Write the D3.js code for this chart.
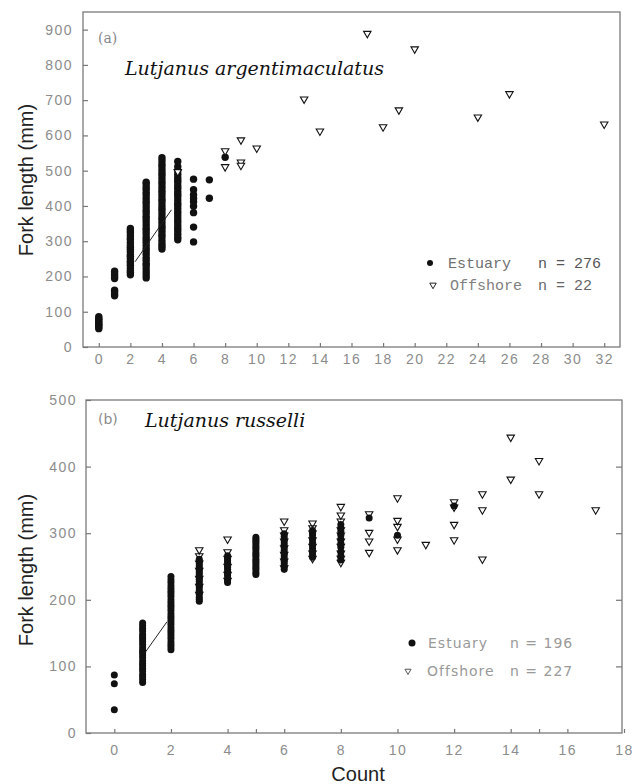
<!DOCTYPE html>
<html lang="en">
<head>
<meta charset="utf-8">
<title>Fork length vs count</title>
<script src="https://cdn.jsdelivr.net/npm/d3@7/dist/d3.min.js"></script>
<style>
  body { margin: 0; background: #fff; }
  .tick text { fill: #8c8c8c; font-family: "Liberation Sans", sans-serif; font-size: 14px; letter-spacing: 1.5px; }
  .tick line { stroke: #777; stroke-width: 1.2; }
</style>
</head>
<body>
<script>
// ---- panel (a): Lutjanus argentimaculatus ----
var aEstCounts = [0, 1, 2, 3, 4, 5, 6, 7, 8];
var aEstLengths = [
  [52, 56, 61, 64, 68, 73, 77, 81, 86],
  [145, 150, 156, 161, 194, 199, 204, 210, 215],
  [205, 212, 217, 224, 232, 238, 243, 251, 257, 262, 270, 277, 283, 289, 296, 304, 309, 316, 324, 330, 336],
  [196, 204, 213, 222, 231, 237, 246, 254, 263, 272, 279, 288, 297, 305, 312, 321, 330, 337, 346, 355, 364, 371, 380, 388, 397, 406, 413, 422, 431, 438, 447, 454, 462, 467],
  [278, 286, 293, 302, 312, 319, 328, 337, 344, 353, 362, 369, 378, 387, 394, 403, 412, 419, 428, 437, 444, 453, 462, 469, 478, 487, 494, 503, 512, 519, 528, 537],
  [304, 311, 320, 329, 336, 344, 353, 360, 369, 377, 384, 393, 401, 408, 417, 426, 433, 441, 450, 457, 466, 473, 481, 490, 500, 511, 526],
  [298, 340, 381, 399, 412, 421, 432, 446, 476],
  [422, 474],
  [538]
];
var aOffCounts = [5, 8, 8, 9, 9, 9, 10, 13, 14, 17, 18, 19, 20, 24, 26, 32];
var aOffLengths = [497, 556, 511, 587, 524, 515, 564, 703, 612, 889, 624, 672, 845, 652, 718, 632];
var aFitCounts = [2.3, 4.6];
var aFitLengths = [242, 389];
var aXTicks = d3.range(0, 33, 2);
var aYTicks = d3.range(0, 901, 100);

// ---- panel (b): Lutjanus russelli ----
var bEstCounts = [0, 1, 2, 3, 4, 5, 6, 7, 8, 9, 10, 12];
var bEstLengths = [
  [35, 74, 87],
  [76, 80, 84, 88, 93, 97, 101, 104, 108, 113, 117, 121, 124, 128, 133, 137, 141, 144, 148, 153, 157, 161, 165],
  [125, 129, 133, 137, 142, 146, 150, 154, 158, 163, 167, 171, 175, 179, 184, 188, 192, 196, 200, 205, 209, 213, 217, 221, 226, 230, 235],
  [198, 201, 204, 208, 211, 214, 218, 221, 224, 228, 231, 234, 238, 241, 244, 248, 251, 254, 258, 261],
  [226, 229, 232, 236, 239, 242, 246, 249, 252, 256, 259, 262, 266],
  [238, 241, 245, 248, 251, 255, 258, 261, 265, 268, 271, 275, 278, 281, 285, 288, 291, 294],
  [246, 250, 254, 258, 262, 266, 270, 274, 278, 283, 287, 291, 295, 299],
  [264, 268, 273, 277, 282, 286, 291, 296, 300, 304],
  [260, 266, 272, 279, 285, 291, 297, 303, 308, 313],
  [323],
  [297],
  [341]
];
var bOffCounts = [3, 4, 6, 7, 8, 9, 10, 11, 12, 13, 14, 15, 17];
var bOffLengths = [
  [275, 266, 255, 244, 232, 220, 208],
  [291, 272, 262, 250, 238, 229],
  [318, 305, 297, 288, 278, 268, 258, 248],
  [315, 308, 300, 290, 280, 270, 262],
  [340, 327, 318, 305, 297, 288, 280, 270, 262, 256],
  [329, 301, 288, 271],
  [353, 319, 310, 291, 275],
  [283],
  [347, 339, 313, 290],
  [359, 335, 261],
  [444, 381],
  [409, 359],
  [335]
];
var bFitCounts = [1.09, 1.86];
var bFitLengths = [121, 167];
var bXTicks = d3.range(0, 19, 2);
var bXMinor = [5, 15];
var bYTicks = d3.range(0, 501, 100);

var w = 638, h = 784;
var svg = d3.select("body").append("svg")
  .attr("width", w)
  .attr("height", h);

function flatGroups(counts, lengths) {
  var out = [];
  counts.forEach(function(c, i) {
    lengths[i].forEach(function(v) { out.push([c, v]); });
  });
  return out;
}

var triangle = d3.symbol().type(d3.symbolTriangle).size(24);

function drawPanel(opt) {
  var g = svg.append("g");
  var x = opt.x, y = opt.y;
  var x0 = x.range()[0], x1 = opt.right;
  var y0 = y.range()[0], y1 = y.range()[1];

  // frame
  g.append("rect")
    .attr("x", x0).attr("y", y1)
    .attr("width", x1 - x0).attr("height", y0 - y1)
    .attr("fill", "none")
    .attr("stroke", "#7a7a7a")
    .attr("stroke-width", 1.3);

  // axes
  var xa = g.append("g")
    .attr("transform", "translate(0," + y0 + ")")
    .call(d3.axisBottom(x).tickValues(opt.xTicks).tickSizeInner(-4).tickSizeOuter(0).tickPadding(opt.xPad));
  xa.select(".domain").remove();

  if (opt.xMinor) {
    g.append("g")
      .attr("transform", "translate(0," + y0 + ")")
      .call(d3.axisBottom(x).tickValues(opt.xMinor).tickSizeInner(-4).tickSizeOuter(0).tickFormat(""))
      .select(".domain").remove();
  }

  var ya = g.append("g")
    .attr("transform", "translate(" + x0 + ",0)")
    .call(d3.axisLeft(y).tickValues(opt.yTicks).tickSizeInner(-5).tickSizeOuter(0).tickPadding(opt.yPad));
  ya.select(".domain").remove();

  if (opt.rightTicks) {
    g.append("g")
      .attr("transform", "translate(" + x1 + ",0)")
      .call(d3.axisLeft(y).tickValues(opt.rightTicks).tickSizeInner(6).tickSizeOuter(0).tickFormat(""))
      .select(".domain").remove();
  }

  // estuary: filled circles
  g.append("g").selectAll("circle")
    .data(opt.estuary)
    .enter()
    .append("circle")
    .attr("cx", function(d) { return x(d[0]); })
    .attr("cy", function(d) { return y(d[1]); })
    .attr("r", opt.r)
    .attr("fill", "#111");

  // offshore: open down triangles
  g.append("g").selectAll("path")
    .data(opt.offshore)
    .enter()
    .append("path")
    .attr("d", triangle)
    .attr("transform", function(d) {
      return "translate(" + x(d[0]) + "," + y(d[1]) + ") rotate(180)";
    })
    .attr("fill", opt.triFill)
    .attr("stroke", "#111")
    .attr("stroke-width", 1.1);

  // fitted line
  g.append("path")
    .datum(opt.fit)
    .attr("d", d3.line().x(function(d) { return x(d[0]); }).y(function(d) { return y(d[1]); }))
    .attr("fill", "none")
    .attr("stroke", "#222")
    .attr("stroke-width", 1);

  // y axis title
  g.append("text")
    .attr("transform", "translate(33," + opt.titleY + ") rotate(-90)")
    .attr("text-anchor", "middle")
    .attr("font-family", "Liberation Sans, sans-serif")
    .attr("font-size", "20px")
    .attr("fill", "#222")
    .text("Fork length (mm)");

  return g;
}

// ---- panel (a) ----
var xA = d3.scaleLinear().domain([-1, 33]).range([83, 620]);
var yA = d3.scaleLinear().domain([0, 950]).range([347, 12]);
var aEst = flatGroups(aEstCounts, aEstLengths);
var aOff = aOffCounts.map(function(c, i) { return [c, aOffLengths[i]]; });
var gA = drawPanel({
  x: xA, y: yA, right: 620,
  xTicks: aXTicks, yTicks: aYTicks, xPad: 7, yPad: 10,
  estuary: aEst, offshore: aOff, r: 3.7, triFill: "#fff",
  fit: aFitCounts.map(function(c, i) { return [c, aFitLengths[i]]; }),
  titleY: 180
});

gA.append("text")
  .attr("x", 98).attr("y", 43)
  .attr("font-family", "DejaVu Serif, serif")
  .attr("font-size", "14px")
  .attr("fill", "#8a8a8a")
  .text("(a)");
gA.append("text")
  .attr("x", 125).attr("y", 75)
  .attr("font-family", "DejaVu Serif, serif")
  .attr("font-style", "italic")
  .attr("font-size", "19px")
  .attr("fill", "#111")
  .text("Lutjanus argentimaculatus");

// legend (a)
var legA = gA.append("g")
  .attr("font-family", "Liberation Mono, monospace")
  .attr("font-size", "15px");
legA.append("circle").attr("cx", 430).attr("cy", 263).attr("r", 3).attr("fill", "#111");
legA.append("path").attr("d", triangle.size(18)).attr("transform", "translate(433,285) rotate(180)")
  .attr("fill", "#fff").attr("stroke", "#222").attr("stroke-width", 1);
legA.append("text").attr("x", 448).attr("y", 268).attr("fill", "#707070").text("Estuary");
legA.append("text").attr("x", 538).attr("y", 268).attr("fill", "#555").text("n = 276");
legA.append("text").attr("x", 450).attr("y", 290).attr("fill", "#808080").text("Offshore");
legA.append("text").attr("x", 538).attr("y", 290).attr("fill", "#666").text("n = 22");

// ---- panel (b) ----
triangle.size(24);
var xB = d3.scaleLinear().domain([-1, 18]).range([86, 624]);
var yB = d3.scaleLinear().domain([0, 500]).range([733, 400]);
var bEst = flatGroups(bEstCounts, bEstLengths);
var bOff = flatGroups(bOffCounts, bOffLengths);
var gB = drawPanel({
  x: xB, y: yB, right: 622,
  xTicks: bXTicks, xMinor: bXMinor, yTicks: bYTicks, xPad: 12, yPad: 9,
  rightTicks: [100, 200, 300, 400],
  estuary: bEst, offshore: bOff, r: 3.5, triFill: "none",
  fit: bFitCounts.map(function(c, i) { return [c, bFitLengths[i]]; }),
  titleY: 570
});

gB.append("text")
  .attr("x", 98).attr("y", 424)
  .attr("font-family", "DejaVu Sans, sans-serif")
  .attr("font-size", "14px")
  .attr("fill", "#8a8a8a")
  .text("(b)");
gB.append("text")
  .attr("x", 145).attr("y", 427)
  .attr("font-family", "DejaVu Serif, serif")
  .attr("font-style", "italic")
  .attr("font-size", "19px")
  .attr("fill", "#111")
  .text("Lutjanus russelli");

// legend (b)
var legB = gB.append("g")
  .attr("font-family", "DejaVu Sans, sans-serif")
  .attr("font-size", "14px")
  .attr("letter-spacing", "1px")
  .attr("fill", "#999");
legB.append("circle").attr("cx", 412).attr("cy", 643).attr("r", 3.5).attr("fill", "#111");
legB.append("path").attr("d", triangle.size(16)).attr("transform", "translate(408,671) rotate(180)")
  .attr("fill", "#fff").attr("stroke", "#555").attr("stroke-width", 1);
legB.append("text").attr("x", 428).attr("y", 648).text("Estuary");
legB.append("text").attr("x", 510).attr("y", 648).text("n = 196");
legB.append("text").attr("x", 427).attr("y", 676).text("Offshore");
legB.append("text").attr("x", 510).attr("y", 676).text("n = 227");

// x axis title
svg.append("text")
  .attr("x", 358).attr("y", 781)
  .attr("text-anchor", "middle")
  .attr("font-family", "Liberation Sans, sans-serif")
  .attr("font-size", "20px")
  .attr("fill", "#222")
  .text("Count");
</script>
</body>
</html>
